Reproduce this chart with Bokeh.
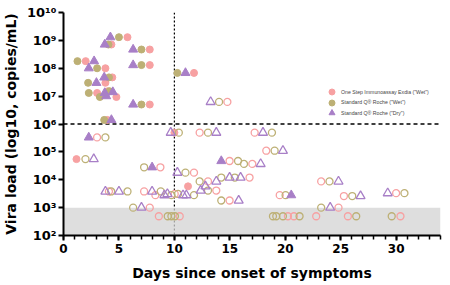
from bokeh.plotting import figure
from bokeh.models import (Span, BoxAnnotation, FixedTicker, CustomJSTickFormatter,
                          Legend, LegendItem)
from bokeh.embed import file_html
from bokeh.resources import INLINE

# ---------------- data ----------------
# One Step Immunoassay Exdia ("Wet") - pink
exdia_pos_days = [5.77, 4.32, 7.78, 2.0, 3.78, 7.78, 11.77, 4.4, 3.78, 3.03, 4.77, 4.0,
                  7.78, 3.95, 10.0, 1.17, 11.23]
exdia_pos_load = [1.3e9, 7.1e8, 4.7e8, 1.8e8, 1.0e8, 1.3e8, 6.8e7, 4.7e7, 3.0e7, 1.3e7, 9.3e6, 1.5e7,
                  5.0e6, 1.4e6, 4.9e5, 5.5e4, 5.8e3]
exdia_neg_days = [14.78, 12.28, 17.24, 3.03, 18.29, 14.98, 17.03, 8.74, 11.77, 16.78,
                  13.03, 23.24, 13.78, 4.1, 7.27, 8.29, 10.03, 14.98, 19.5, 25.29, 30.0,
                  24.8, 7.78, 8.6, 10.48, 20.24, 20.78, 22.79, 25.65, 30.39]
exdia_neg_load = [6.2e6, 4.9e5, 4.9e5, 3.3e5, 1.1e5, 4.7e4, 3.7e4, 2.8e4, 1.8e4, 1.2e4,
                  8.7e3, 8.7e3, 4.1e3, 3.8e3, 3.8e3, 2.8e3, 3.1e3, 1.8e3, 2.8e3, 2.6e3, 3.3e3,
                  1.0e3, 1.0e3, 4.9e2, 4.9e2, 4.9e2, 4.9e2, 4.9e2, 4.9e2, 4.9e2]

# Standard Q Roche ("Wet") - olive
wet_pos_days = [5.0, 4.05, 7.03, 1.26, 3.03, 7.03, 10.27, 4.1, 2.22, 2.28, 3.28, 4.15, 7.03, 3.67]
wet_pos_load = [1.3e9, 7.1e8, 4.7e8, 1.8e8, 1.0e8, 1.3e8, 6.8e7, 4.7e7, 3.0e7, 1.3e7, 9.3e6, 1.5e7,
                5.0e6, 1.4e6]
wet_neg_days = [14.03, 10.4, 13.03, 18.8, 3.78, 19.04, 1.98, 15.74, 16.28, 7.27, 11.0, 14.23,
                15.45, 12.28, 23.99, 13.03, 4.3, 5.77, 8.77, 9.73, 10.33, 11.77, 14.23, 20.03,
                26.04, 30.75, 23.24, 6.28, 9.4, 9.73, 10.05, 18.89, 19.19, 19.79, 21.29, 26.4, 29.6]
wet_neg_load = [6.2e6, 4.9e5, 4.9e5, 4.9e5, 3.3e5, 1.1e5, 5.5e4, 4.7e4, 3.7e4, 2.8e4, 1.8e4, 1.2e4,
                1.2e4, 8.7e3, 8.7e3, 4.1e3, 3.8e3, 3.8e3, 3.8e3, 2.8e3, 3.1e3, 2.8e3, 1.8e3, 2.8e3,
                2.6e3, 3.3e3, 1.0e3, 1.0e3, 4.9e2, 4.9e2, 4.9e2, 4.9e2, 4.9e2, 4.9e2, 4.9e2, 4.9e2, 4.9e2]

# Standard Q Roche ("Dry") - purple
dry_pos_days = [4.23, 3.72, 6.28, 2.76, 2.28, 6.28, 11.0, 3.67, 2.97, 3.72, 3.85, 4.45, 6.28,
                4.32, 2.28, 14.23, 7.99, 20.54]
dry_pos_load = [1.3e9, 7.1e8, 4.7e8, 1.8e8, 1.0e8, 1.3e8, 6.8e7, 4.7e7, 3.0e7, 1.3e7, 1.0e7, 1.4e7,
                5.0e6, 1.4e6, 3.3e5, 4.7e4, 2.8e4, 2.8e3]
dry_neg_days = [13.27, 9.67, 13.78, 17.99, 19.79, 2.73, 17.78, 10.27, 14.98, 15.97, 13.78, 24.8,
                12.8, 12.37, 3.78, 5.0, 7.99, 9.1, 9.37, 10.78, 11.08, 15.8, 26.79, 29.24,
                24.05, 7.03]
dry_neg_load = [6.2e6, 4.9e5, 4.9e5, 4.9e5, 1.1e5, 5.5e4, 3.7e4, 1.8e4, 1.2e4, 1.2e4, 8.7e3, 8.7e3,
                5.8e3, 4.1e3, 3.8e3, 3.8e3, 3.8e3, 2.8e3, 3.1e3, 2.8e3, 2.8e3, 1.8e3, 2.6e3, 3.3e3,
                1.0e3, 1.0e3]

series_labels = ['One Step Immunoassay Exdia ("Wet")',
                 'Standard Q\u00ae Roche ("Wet")',
                 'Standard Q\u00ae Roche ("Dry")']

x_ticks = [0, 5, 10, 15, 20, 25, 30]
x_minor_ticks = list(range(0, 35))
y_ticks = [1e2, 1e3, 1e4, 1e5, 1e6, 1e7, 1e8, 1e9, 1e10]
y_tick_labels = ["10\u00b2", "10\u00b3", "10\u2074", "10\u2075", "10\u2076",
                 "10\u2077", "10\u2078", "10\u2079", "10\u00b9\u2070"]

cutoff_load = 1e6
cutoff_day = 10
detection_band = (1e2, 1e3)

# ---------------- figure ----------------
pink = "#F7A1A2"
olive = "#BDB075"
purple = "#A87FC7"

p = figure(width=448, height=283, x_range=(0, 34), y_range=(1e2, 1e10), y_axis_type="log",
           output_backend="svg", toolbar_location=None,
           min_border_left=62, min_border_right=8, min_border_top=12, min_border_bottom=46)
p.outline_line_color = None
p.grid.visible = False

p.add_layout(Span(location=cutoff_load, dimension="width", line_color="black",
                  line_width=1.3, line_dash="4 3", level="underlay"))
p.add_layout(Span(location=cutoff_day, dimension="height", line_color="black",
                  line_width=1.2, line_dash="2 2", level="underlay"))
p.add_layout(BoxAnnotation(bottom=detection_band[0], top=detection_band[1],
                           fill_color="#D3D3D3", fill_alpha=0.75, line_color=None,
                           level="underlay"))

cs, ts, lw = 7, 9, 1.3
r_kp = p.scatter(exdia_pos_days, exdia_pos_load, marker="circle", size=cs,
                 fill_color=pink, line_color=pink)
p.scatter(exdia_neg_days, exdia_neg_load, marker="circle", size=cs,
          fill_color=None, line_color=pink, line_width=lw)
r_op = p.scatter(wet_pos_days, wet_pos_load, marker="circle", size=cs,
                 fill_color=olive, line_color=olive)
p.scatter(wet_neg_days, wet_neg_load, marker="circle", size=cs,
          fill_color=None, line_color=olive, line_width=lw)
r_pp = p.scatter(dry_pos_days, dry_pos_load, marker="triangle", size=ts,
                 fill_color=purple, line_color=purple)
p.scatter(dry_neg_days, dry_neg_load, marker="triangle", size=ts,
          fill_color=None, line_color=purple, line_width=lw)

# axes
p.xaxis.ticker = FixedTicker(ticks=x_ticks, minor_ticks=x_minor_ticks)
p.yaxis.ticker = FixedTicker(ticks=y_ticks, minor_ticks=[])
p.yaxis.formatter = CustomJSTickFormatter(
    args=dict(tick_values=y_ticks, tick_labels=y_tick_labels), code="""
    const e = Math.log10(tick);
    for (let i = 0; i < tick_values.length; i++) {
        if (Math.abs(Math.log10(tick_values[i]) - e) < 1e-6) { return tick_labels[i]; }
    }
    return "";
""")

for ax in (p.xaxis, p.yaxis):
    ax.axis_line_width = 2
    ax.axis_line_color = "black"
    ax.major_tick_line_width = 2
    ax.major_tick_line_color = "black"
    ax.major_tick_in = 0
    ax.major_tick_out = 5
    ax.minor_tick_in = 0
    ax.major_label_text_font = "DejaVu Sans"
    ax.major_label_text_font_style = "bold"
    ax.major_label_text_color = "black"
    ax.axis_label_text_font = "DejaVu Sans"
    ax.axis_label_text_font_style = "bold"
    ax.axis_label_text_font_size = "14px"
    ax.axis_label_text_color = "black"

p.xaxis.minor_tick_out = 4
p.xaxis.minor_tick_line_width = 1.5
p.xaxis.minor_tick_line_color = "black"
p.xaxis.major_label_text_font_size = "12px"
p.xaxis.major_label_standoff = 3
p.xaxis.axis_label = "Days since onset of symptoms"
p.xaxis.axis_label_standoff = 9

p.yaxis.major_label_text_font_size = "13px"
p.yaxis.major_label_standoff = 2
p.yaxis.axis_label = "Vira load (log10, copies/mL)"
p.yaxis.axis_label_standoff = 5

# legend: one single-row legend per series, stacked
legend_rows = [(series_labels[0], r_kp), (series_labels[1], r_op), (series_labels[2], r_pp)]
for i, (lab, rend) in enumerate(legend_rows):
    lg = Legend(items=[LegendItem(label=lab, renderers=[rend])],
                location=(261, 136 - 10.5 * i), glyph_width=15, glyph_height=15,
                padding=0, margin=0, spacing=0, label_standoff=2, label_height=15,
                label_text_font="Liberation Sans", label_text_font_size="5.2px",
                label_text_color="#444444", border_line_color=None,
                background_fill_alpha=0)
    p.add_layout(lg)

open("out.html", "w", encoding="utf-8").write(file_html(p, INLINE))
